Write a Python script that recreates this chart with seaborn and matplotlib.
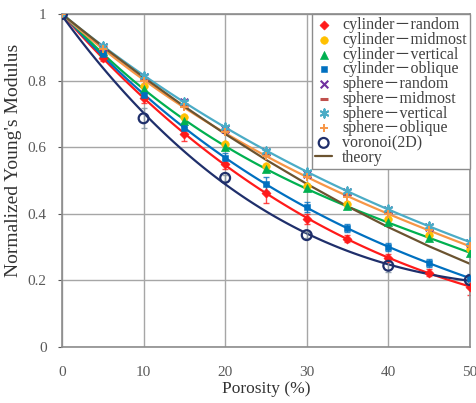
import numpy as np
import pandas as pd
import matplotlib
matplotlib.use("Agg")
import matplotlib.pyplot as plt
import seaborn as sns

porosity = [0, 5, 10, 15, 20, 25, 30, 35, 40, 45, 50]
cyl_random = [1, 0.868, 0.748, 0.64, 0.55, 0.462, 0.385, 0.325, 0.268, 0.223, 0.181]
cyl_midmost = [1, 0.895, 0.785, 0.69, 0.61, 0.545, 0.485, 0.43, 0.385, 0.337, 0.293]
cyl_vertical = [1, 0.89, 0.775, 0.68, 0.60, 0.535, 0.477, 0.423, 0.375, 0.327, 0.283]
cyl_oblique = [1, 0.88, 0.757, 0.658, 0.567, 0.49, 0.42, 0.357, 0.30, 0.252, 0.207]
sph_random = [1, 0.90, 0.81, 0.735, 0.655, 0.585, 0.52, 0.465, 0.412, 0.36, 0.312]
sph_midmost = [1, 0.90, 0.805, 0.725, 0.648, 0.58, 0.515, 0.46, 0.405, 0.355, 0.305]
sph_vertical = [1, 0.905, 0.815, 0.737, 0.66, 0.59, 0.525, 0.468, 0.415, 0.362, 0.315]
sph_oblique = [1, 0.895, 0.80, 0.72, 0.645, 0.575, 0.51, 0.452, 0.40, 0.35, 0.303]
theory = [1, 0.9025, 0.81, 0.7225, 0.64, 0.5625, 0.49, 0.4225, 0.36, 0.3025, 0.25]

voronoi_x = [0, 10, 20, 30, 40, 50]
voronoi = [1, 0.687, 0.508, 0.336, 0.244, 0.201]

err_cyl_random = [0, 0.01, 0.015, 0.02, 0.015, 0.03, 0.015, 0.01, 0.01, 0.01, 0.025]
err_cyl_oblique = [0, 0.01, 0.01, 0.015, 0.015, 0.02, 0.015, 0.012, 0.012, 0.012, 0.012]
err_voronoi = [0, 0.03, 0.01, 0.01, 0.02, 0.012]

labels = ["cylinder－random", "cylinder－midmost", "cylinder－vertical",
          "cylinder－oblique", "sphere－random", "sphere－midmost",
          "sphere－vertical", "sphere－oblique", "voronoi(2D)", "theory"]

sns.set_style("white")
plt.rcParams['font.family'] = ['Liberation Serif', 'Noto Sans CJK JP', 'DejaVu Sans']

fig = plt.figure(figsize=(4.77, 4.03), dpi=100)
ax = fig.add_axes([0.130, 0.139, 0.855, 0.826])

c_red = "#ff1a1a"
c_yel = "#ffc000"
c_grn = "#00b050"
c_blu = "#0070c0"
c_pur = "#7030a0"
c_mid = "#c0504d"
c_cyn = "#4bacc6"
c_org = "#f79646"
c_nav = "#1f2f6b"
c_thr = "#6b5330"

# fitted curves
fits = [(porosity, cyl_random, c_red), (porosity, cyl_oblique, c_blu),
        (porosity, cyl_vertical, c_grn), (porosity, sph_oblique, c_org),
        (porosity, sph_vertical, c_cyn), (voronoi_x, voronoi, c_nav)]
for xs, ys, c in fits:
    sns.regplot(x=np.array(xs), y=np.array(ys), order=3, scatter=False, ci=None,
                color=c, line_kws=dict(lw=1.6), ax=ax, truncate=True)

sns.lineplot(x=porosity, y=theory, color=c_thr, lw=1.6, ax=ax, label=labels[9])

# error bars
ax.errorbar(porosity, cyl_random, yerr=err_cyl_random, fmt='none', ecolor=c_red, elinewidth=1, capsize=2, alpha=0.8)
ax.errorbar(porosity, cyl_oblique, yerr=err_cyl_oblique, fmt='none', ecolor=c_blu, elinewidth=1, capsize=2, alpha=0.8)
ax.errorbar(voronoi_x, voronoi, yerr=err_voronoi, fmt='none', ecolor="#8090a0", elinewidth=1, capsize=2, alpha=0.8)

# markers
sns.scatterplot(x=porosity, y=cyl_random, marker='D', s=22, color=c_red, edgecolor=c_red, ax=ax, label=labels[0], zorder=5)
sns.scatterplot(x=porosity, y=cyl_midmost, marker='o', s=30, color=c_yel, edgecolor=c_yel, ax=ax, label=labels[1], zorder=5)
sns.scatterplot(x=porosity, y=cyl_vertical, marker='^', s=34, color=c_grn, edgecolor=c_grn, ax=ax, label=labels[2], zorder=5)
sns.scatterplot(x=porosity, y=cyl_oblique, marker='s', s=24, color=c_blu, edgecolor=c_blu, ax=ax, label=labels[3], zorder=5)
sns.scatterplot(x=porosity, y=sph_random, marker='x', s=30, color=c_pur, linewidth=1.5, ax=ax, label=labels[4], zorder=5)
sns.scatterplot(x=porosity, y=sph_midmost, marker='_', s=40, color=c_mid, linewidth=2.2, ax=ax, label=labels[5], zorder=5)
sns.scatterplot(x=porosity, y=sph_vertical, marker=(6, 2, 0), s=36, color=c_cyn, linewidth=1.4, ax=ax, label=labels[6], zorder=5)
sns.scatterplot(x=porosity, y=sph_oblique, marker='+', s=36, color=c_org, linewidth=1.4, ax=ax, label=labels[7], zorder=5)
sns.scatterplot(x=voronoi_x, y=voronoi, marker='o', s=50, facecolor='none', edgecolor=c_nav, linewidth=1.6, ax=ax, label=labels[8], zorder=6)

ax.set_xlim(0, 50)
ax.set_ylim(0, 1)
ax.set_xticks([0, 10, 20, 30, 40, 50])
ax.set_yticks([0, 0.2, 0.4, 0.6, 0.8, 1.0])
ax.set_yticklabels(["0", "0.2", "0.4", "0.6", "0.8", "1"])
ax.grid(True, color="#a6a6a6", lw=1.0)
ax.set_axisbelow(True)
for sp in ax.spines.values():
    sp.set_color("#8c8c8c")
    sp.set_linewidth(1.2)
ax.tick_params(axis='both', labelsize=11, colors="#595959", length=3, direction='out',
               left=True, bottom=False, pad=8)
ax.tick_params(axis='x', pad=11)
ax.set_xlabel("Porosity (%)", fontsize=12.5, color="#333333", labelpad=1)
ax.set_ylabel("Normalized Young's Modulus", fontsize=14, color="#333333")
ax.yaxis.set_label_coords(-0.097, 0.56)

h, l = ax.get_legend_handles_labels()
d = dict(zip(l, h))
leg = ax.legend([d[k] for k in labels], labels, loc='upper right', bbox_to_anchor=(1.0, 1.0),
                fontsize=11.5, frameon=True, fancybox=False, edgecolor="#8c8c8c",
                borderaxespad=0.0, borderpad=0.2, labelspacing=-0.08, handlelength=1.1,
                handletextpad=0.6, markerscale=1.0, framealpha=1)
leg.get_frame().set_linewidth(1.0)
for t in leg.get_texts():
    t.set_color("#404040")

fig.savefig("out.png", dpi=100)
